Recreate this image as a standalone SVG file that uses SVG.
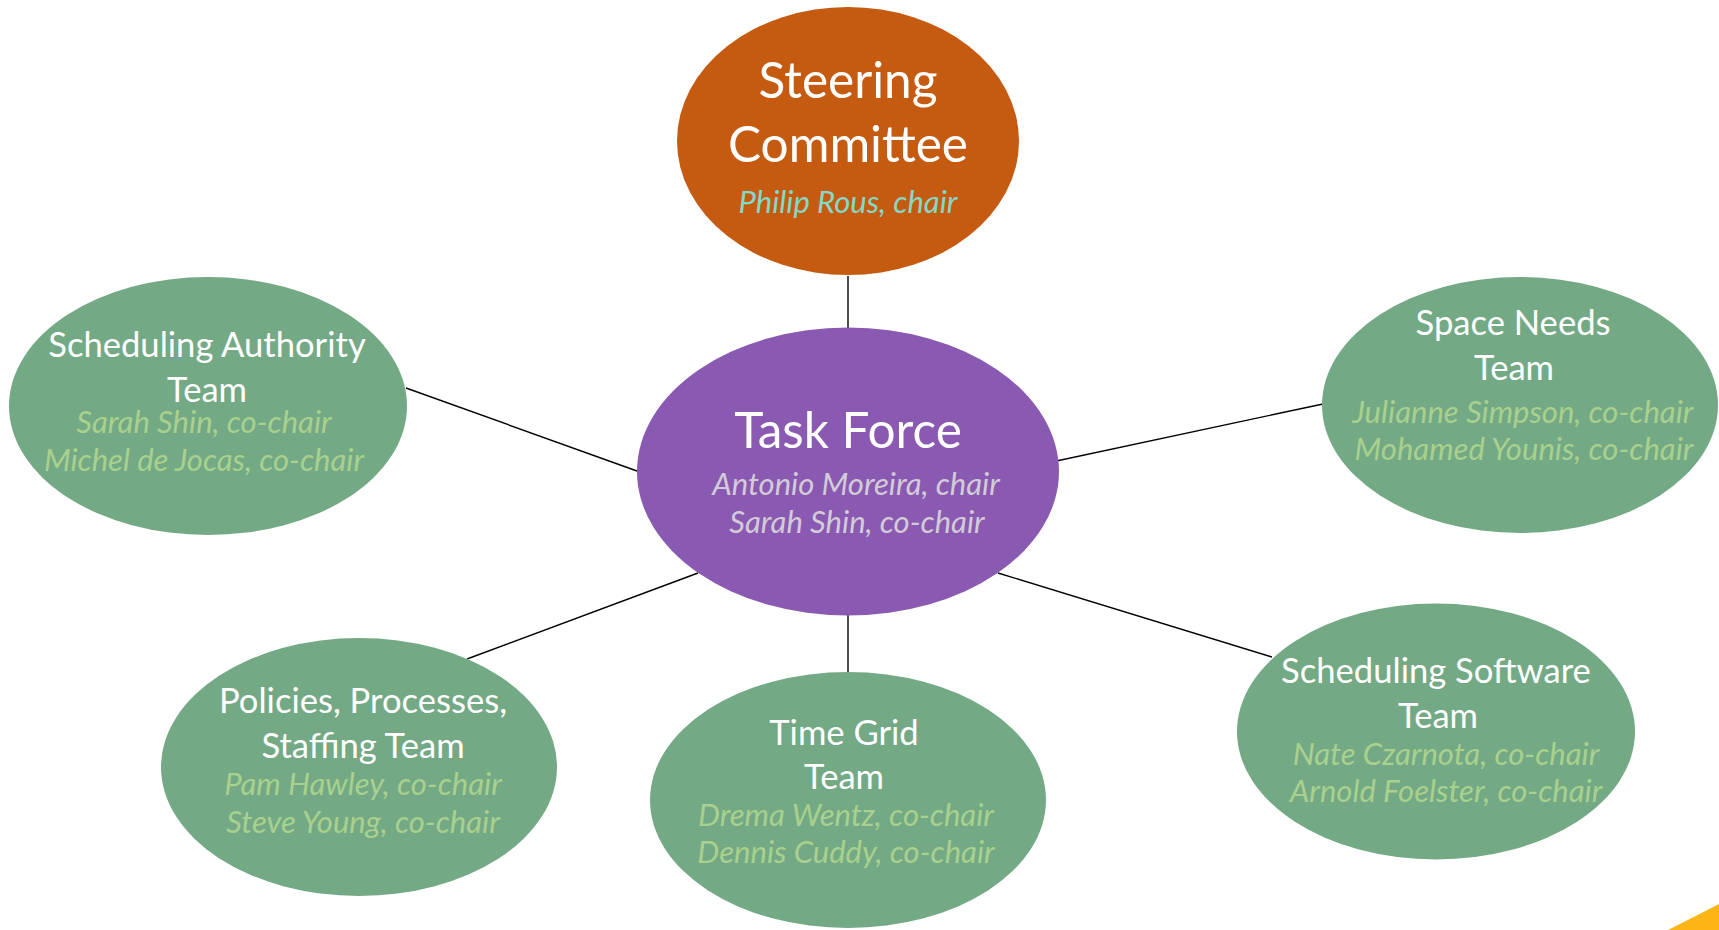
<svg xmlns="http://www.w3.org/2000/svg" width="1719" height="930" viewBox="0 0 1719 930">
<style>
.big{font-family:Lato,"Open Sans","Liberation Sans",sans-serif;font-size:49.5px;fill:#ffffff;text-anchor:middle}
.team{font-family:Lato,"Open Sans","Liberation Sans",sans-serif;font-size:34.6px;fill:#ffffff;text-anchor:middle}
.sub{font-family:Lato,"Open Sans","Liberation Sans",sans-serif;font-size:31px;font-style:italic;text-anchor:middle}
.g{fill:#74A985}
.gs{fill:#A9D18E}
.conn line{stroke:#000000;stroke-width:1.4}
</style>
<rect width="1719" height="930" fill="#ffffff"/>
<path d="M1668,930 Q1694,917 1719,904 L1719,930 Z" fill="#FDB515"/>
<g id="connectors" class="conn">
<line x1="848" y1="276" x2="848" y2="328"/>
<line x1="406" y1="388" x2="637" y2="471"/>
<line x1="1047" y1="463" x2="1323" y2="404"/>
<line x1="698" y1="573" x2="467" y2="659"/>
<line x1="848" y1="615" x2="848" y2="672"/>
<line x1="998" y1="573" x2="1272" y2="657"/>
</g>
<g id="steering">
<ellipse cx="848" cy="141" rx="171" ry="134" fill="#C55A11"/>
<text class="big" x="848" y="98">Steering</text>
<text class="big" x="848" y="162">Committee</text>
<text class="sub" x="848" y="213" fill="#86D8C5">Philip Rous, chair</text>
</g>
<g id="taskforce">
<ellipse cx="848" cy="471.5" rx="211" ry="144" fill="#8A59B1"/>
<text class="big" x="848" y="448">Task Force</text>
<text class="sub" x="856" y="495" fill="#D3CCD8">Antonio Moreira, chair</text>
<text class="sub" x="857" y="533" fill="#D3CCD8">Sarah Shin, co-chair</text>
</g>
<g id="authority">
<ellipse class="g" cx="208" cy="406" rx="199" ry="129"/>
<text class="team" x="207" y="357">Scheduling Authority</text>
<text class="team" x="207" y="402">Team</text>
<text class="sub gs" x="204" y="433">Sarah Shin, co-chair</text>
<text class="sub gs" x="204" y="471">Michel de Jocas, co-chair</text>
</g>
<g id="space">
<ellipse class="g" cx="1520" cy="405" rx="198" ry="128"/>
<text class="team" x="1513" y="335">Space Needs</text>
<text class="team" x="1514" y="380">Team</text>
<text class="sub gs" x="1523" y="423">Julianne Simpson, co-chair</text>
<text class="sub gs" x="1524" y="460">Mohamed Younis, co-chair</text>
</g>
<g id="software">
<ellipse class="g" cx="1436" cy="731.5" rx="199" ry="128"/>
<text class="team" x="1436" y="683">Scheduling Software</text>
<text class="team" x="1438" y="728">Team</text>
<text class="sub gs" x="1446" y="765">Nate Czarnota, co-chair</text>
<text class="sub gs" x="1446" y="802">Arnold Foelster, co-chair</text>
</g>
<g id="timegrid">
<ellipse class="g" cx="848" cy="800" rx="198" ry="128"/>
<text class="team" x="844" y="745">Time Grid</text>
<text class="team" x="844" y="789">Team</text>
<text class="sub gs" x="846" y="826">Drema Wentz, co-chair</text>
<text class="sub gs" x="846" y="863">Dennis Cuddy, co-chair</text>
</g>
<g id="policies">
<ellipse class="g" cx="359" cy="767" rx="198" ry="129"/>
<text class="team" x="363" y="713">Policies, Processes,</text>
<text class="team" x="363" y="758">Staffing Team</text>
<text class="sub gs" x="363" y="795">Pam Hawley, co-chair</text>
<text class="sub gs" x="363" y="833">Steve Young, co-chair</text>
</g>
</svg>
